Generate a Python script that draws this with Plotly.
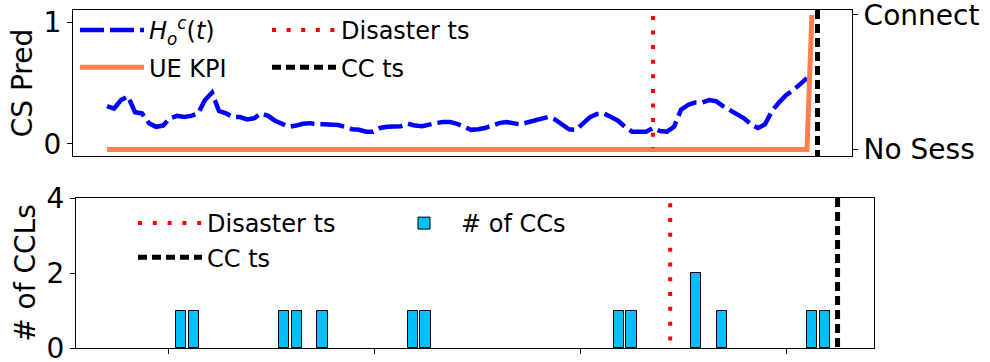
import plotly.graph_objects as go

# ---------------- data ----------------
# top panel: predicted connection state H_o^c(t) per time step
t_steps = list(range(101))
hoc = [
    .31, .29, .36, .39, .26, .25, .17, .14, .15, .21,
    .23, .22, .23, .25, .36, .42, .27, .25, .22, .22,
    .20, .21, .25, .23, .19, .16, .14, .15, .165, .17,
    .16, .16, .16, .155, .14, .12, .115, .10, .10, .13,
    .14, .14, .145, .165, .15, .145, .16, .17, .18, .18,
    .165, .14, .115, .12, .13, .15, .17, .18, .17, .16,
    .175, .19, .20, .22, .20, .16, .12, .115, .17, .22,
    .245, .25, .22, .19, .14, .10, .10, .10, .13, .105,
    .10, .14, .28, .32, .34, .34, .36, .35, .31, .28,
    .25, .21, .16, .13, .16, .27, .34, .40, .44, .49,
    .54,
]
ue_t = [0, 100, 100.7]
ue_state = [0, 0, 1]
disaster_ts_top = 78
cc_ts_top = 101.5

# bottom panel: number of CCLs per bin
ccl_bins = [1, 2, 9, 10, 12, 19, 20, 35, 36, 41, 43, 50, 51]
ccl_counts = [1, 1, 1, 1, 1, 1, 1, 1, 1, 2, 1, 1, 1]
disaster_ts_bot = 39
cc_ts_bot = 52
bot_xticks = [0, 16, 32, 48]

state_ticks = [0, 1]
state_labels = ["No Sess", "Connect"]

# ---------------- styling ----------------
FONT = "DejaVu Sans"
W, H = 990, 362
top_y_range = [-0.1, 1.1]
top_y3_range = [-0.048, 1.037]
bot_y_range = [0, 4]

fig = go.Figure()

fig.add_trace(go.Scatter(
    x=t_steps, y=hoc, mode="lines", xaxis="x", yaxis="y",
    line=dict(color="#0000ff", width=4.5, dash="24px,6px"),
    name="<i>H</i><sub><i>o</i></sub><sup><i>c</i></sup>(<i>t</i>)",
    legend="legend", legendgroup="a",
))
fig.add_trace(go.Scatter(
    x=ue_t, y=ue_state, mode="lines", xaxis="x", yaxis="y3",
    line=dict(color="#ff7f50", width=5),
    name="UE KPI", legend="legend", legendgroup="b",
))
fig.add_trace(go.Scatter(
    x=[disaster_ts_top, disaster_ts_top], y=[0.993, 0.011], mode="lines",
    xaxis="x", yaxis="y3",
    line=dict(color="#ff0000", width=4, dash="4px,10.6px"),
    name="Disaster ts", legend="legend2", legendgroup="c",
))
fig.add_trace(go.Scatter(
    x=[cc_ts_top, cc_ts_top], y=[top_y3_range[1], top_y3_range[0]], mode="lines",
    xaxis="x", yaxis="y3",
    line=dict(color="#000000", width=5, dash="9px,5px"),
    name="CC ts", legend="legend2", legendgroup="d",
))

# bottom
fig.add_trace(go.Scatter(
    x=[disaster_ts_bot, disaster_ts_bot], y=[3.86, 0.18], mode="lines",
    xaxis="x2", yaxis="y2",
    line=dict(color="#ff0000", width=4, dash="4px,10.8px"),
    name="Disaster ts", legend="legend3", legendgroup="e",
))
fig.add_trace(go.Scatter(
    x=[cc_ts_bot, cc_ts_bot], y=[bot_y_range[1], bot_y_range[0]], mode="lines",
    xaxis="x2", yaxis="y2",
    line=dict(color="#000000", width=5, dash="9px,5px"),
    name="CC ts", legend="legend3", legendgroup="f",
))
fig.add_trace(go.Bar(
    x=ccl_bins, y=ccl_counts, width=0.8, xaxis="x2", yaxis="y2",
    marker=dict(color="#00bfff", line=dict(color="#000000", width=1)),
    name="# of CCs", legend="legend4", legendgroup="g",
))

axis_common = dict(showline=True, linecolor="black", linewidth=1, mirror=True,
                   showgrid=False, zeroline=False, ticks="outside", ticklen=5,
                   automargin=False, ticklabeloverflow="allow",
                   tickcolor="black", tickfont=dict(size=28, family=FONT, color="black"))

legend_common = dict(font=dict(size=24, family=FONT, color="black"),
                     bgcolor="rgba(0,0,0,0)", xanchor="left", yanchor="top",
                     itemwidth=64, traceorder="grouped")

fig.update_layout(
    width=W, height=H, margin=dict(l=0, r=0, t=0, b=0, autoexpand=False),
    plot_bgcolor="white", paper_bgcolor="white",
    font=dict(family=FONT, color="black"),
    bargap=0,
    xaxis=dict(domain=[73 / W, 852 / W], range=[-4.86, 106.43], anchor="y",
               showline=True, linecolor="black", linewidth=1, mirror=True,
               automargin=False,
               showgrid=False, zeroline=False, showticklabels=False, ticks=""),
    yaxis=dict(domain=[1 - 156 / H, 1 - 10 / H], range=top_y_range, anchor="x",
               tickvals=state_ticks,
               title=dict(text="CS Pred", font=dict(size=28, family=FONT), standoff=2),
               **axis_common),
    yaxis3=dict(overlaying="y", side="right", anchor="x", range=top_y3_range,
                tickvals=state_ticks, ticktext=state_labels, showgrid=False,
                zeroline=False, showline=False, ticks="outside", ticklen=5,
                automargin=False, ticklabeloverflow="allow",
                tickcolor="black", tickfont=dict(size=28, family=FONT, color="black")),
    xaxis2=dict(domain=[76 / W, 874 / W], range=[-7.15, 54.83], anchor="y2",
                tickvals=bot_xticks, showticklabels=False,
                showline=True, linecolor="black", linewidth=1, mirror=True,
                automargin=False,
                showgrid=False, zeroline=False, ticks="outside", ticklen=5,
                tickcolor="black"),
    yaxis2=dict(domain=[1 - 348 / H, 1 - 198 / H], range=bot_y_range, anchor="x2",
                tickvals=[0, 2, 4],
                title=dict(text="# of CCLs", font=dict(size=28, family=FONT), standoff=2),
                **axis_common),
    legend=dict(x=75 / W, y=1 - 8 / H, tracegroupgap=3, **legend_common),
    legend2=dict(x=267 / W, y=1 - 8 / H, tracegroupgap=3, **legend_common),
    legend3=dict(x=133 / W, y=1 - 201 / H, tracegroupgap=0, **legend_common),
    legend4=dict(x=387 / W, y=1 - 201 / H, tracegroupgap=0, **legend_common),
    showlegend=True,
)

fig.write_html("out.html")
